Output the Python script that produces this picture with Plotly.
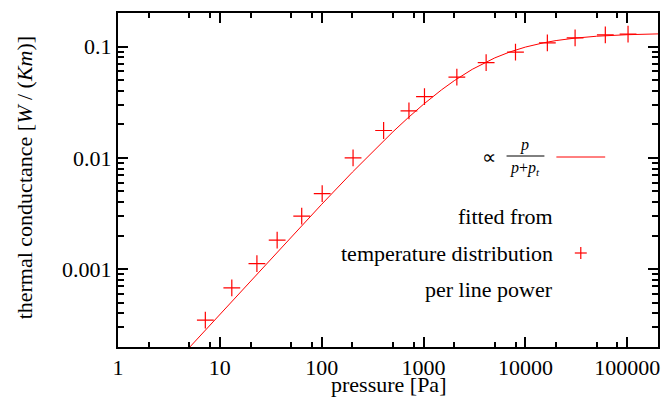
import plotly.graph_objects as go

# measured data (pressure in Pa, thermal conductance in W/(K m))
pressure = [7.2, 13.1, 23.1, 36.5, 63.6, 101, 203, 405, 718, 1020, 2120, 4110, 7980, 16400, 30700, 60800, 101600]
conductance = [0.000349, 0.000679, 0.00112, 0.00182, 0.0030, 0.00477, 0.0100, 0.0176, 0.0264, 0.0355,
               0.0531, 0.0718, 0.0889, 0.108, 0.1196, 0.127, 0.129]

# fitted curve, values
fit_p = [5, 10, 30, 100, 200, 300, 500, 700, 1000, 1500, 2000, 3000, 5000, 7000, 10000,
         15000, 20000, 30000, 50000, 100000, 200000]
fit_k = [0.000197, 0.000393, 0.00117, 0.00383, 0.00744, 0.01085, 0.01714, 0.02281, 0.03034, 0.04082,
         0.04935, 0.06236, 0.07904, 0.08928, 0.09888, 0.1079, 0.1131, 0.1187, 0.1237, 0.1277, 0.1298]

x_ticks = [1, 10, 100, 1000, 10000, 100000]
x_ticklabels = ["1", "10", "100", "1000", "10000", "100000"]
y_ticks = [0.001, 0.01, 0.1]
y_ticklabels = ["0.001", "0.01", "0.1"]

FONT = "Liberation Serif"
RED = "#ff0000"

# plot area in pixels
L, R, T, B = 118, 660, 13, 347
W, H = 665, 404


def px(x):
    return (x - L) / (R - L)


def py(y):
    return (B - y) / (B - T)


fig = go.Figure()
fig.add_trace(go.Scatter(x=fit_p, y=fit_k, mode="lines", line=dict(color=RED, width=1), showlegend=False,
                         hoverinfo="skip"))
fig.add_trace(go.Scatter(x=pressure, y=conductance, mode="markers",
                         marker=dict(symbol="cross-thin", size=12, line=dict(color=RED, width=1.2)),
                         showlegend=False))

minor_x = []
for d in [1, 10, 100, 1000, 10000, 100000]:
    minor_x += [2 * d, 5 * d, 8 * d]
minor_y = []
for d in [0.0001, 0.001, 0.01, 0.1]:
    minor_y += [k * d for k in range(2, 10)]

axis_common = dict(type="log", showgrid=False, zeroline=False, showline=True, linecolor="black", linewidth=2,
                   mirror="allticks", ticks="inside", ticklen=10, tickwidth=1.5, tickcolor="black",
                   tickfont=dict(family=FONT, size=22, color="black"))

fig.update_xaxes(**axis_common, range=[0, 5.301], tickvals=x_ticks, ticktext=x_ticklabels,
                 minor=dict(tickvals=minor_x, ticks="inside", ticklen=5, tickwidth=1.5, tickcolor="black"))
fig.update_yaxes(**axis_common, range=[-3.699, -0.699], tickvals=y_ticks, ticktext=y_ticklabels,
                 minor=dict(tickvals=minor_y, ticks="inside", ticklen=6, tickwidth=1.5, tickcolor="black"))

ann = []
txt_font = dict(family=FONT, size=22, color="black")
# axis titles
ann.append(dict(text="pressure [Pa]", x=px(389), y=py(385), xref="paper", yref="paper", showarrow=False,
                font=txt_font, xanchor="center", yanchor="middle"))
ann.append(dict(text="thermal conductance [<i>W</i> / (<i>Km</i>)]", x=px(25), y=py(178), xref="paper",
                yref="paper", showarrow=False, font=txt_font, textangle=-90, xanchor="center",
                yanchor="middle"))
# fraction legend
ann.append(dict(text="∝", x=px(490), y=py(157), xref="paper", yref="paper", showarrow=False,
                font=dict(family=FONT, size=20, color="black"), xanchor="center", yanchor="middle"))
ann.append(dict(text="<i>p</i>", x=px(526), y=py(145), xref="paper", yref="paper", showarrow=False,
                font=dict(family=FONT, size=16, color="black"), xanchor="center", yanchor="middle"))
ann.append(dict(text="<i>p</i>+<i>p</i><sub><i>t</i></sub>", x=px(527), y=py(168), xref="paper", yref="paper",
                showarrow=False, font=dict(family=FONT, size=16, color="black"), xanchor="center",
                yanchor="middle"))
for t, yy in [("fitted from", 217), ("temperature distribution", 253), ("per line power", 289)]:
    ann.append(dict(text=t, x=px(557), y=py(yy), xref="paper", yref="paper", showarrow=False, font=txt_font,
                    xanchor="right", yanchor="middle"))

shapes = [
    dict(type="line", xref="paper", yref="paper", x0=px(508), x1=px(546), y0=py(156), y1=py(156),
         line=dict(color="black", width=1)),
    dict(type="line", xref="paper", yref="paper", x0=px(558), x1=px(607), y0=py(157), y1=py(157),
         line=dict(color=RED, width=1)),
    dict(type="line", xref="paper", yref="paper", x0=px(576.5), x1=px(588.5), y0=py(253), y1=py(253),
         line=dict(color=RED, width=1.2)),
    dict(type="line", xref="paper", yref="paper", x0=px(582.5), x1=px(582.5), y0=py(247), y1=py(259),
         line=dict(color=RED, width=1.2)),
]

fig.update_layout(width=W, height=H, margin=dict(l=L, r=W - R, t=T, b=H - B), plot_bgcolor="white",
                  paper_bgcolor="white", annotations=ann, shapes=shapes, showlegend=False,
                  font=dict(family=FONT, color="black"))

fig.write_html("out.html")
